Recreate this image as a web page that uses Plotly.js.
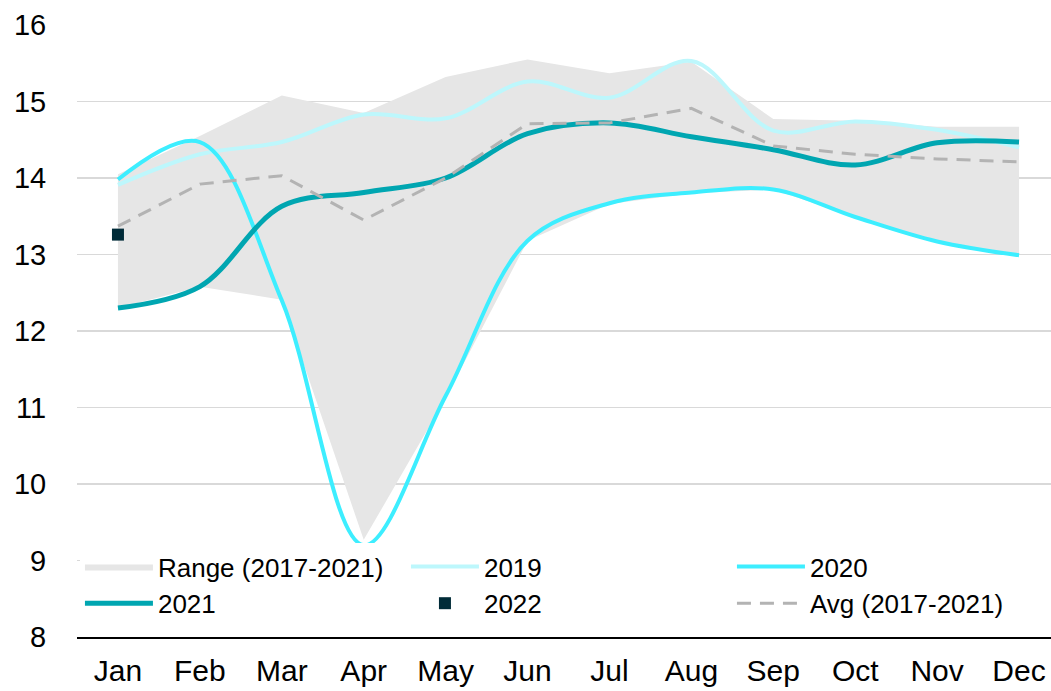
<!DOCTYPE html>
<html>
<head>
<meta charset="utf-8">
<script src="https://cdn.plot.ly/plotly-3.0.1.min.js"></script>
<style>html,body{margin:0;padding:0;background:#fff;overflow:hidden;width:1051px;height:691px;}#chart{width:1060px;height:691px;}</style>
</head>
<body>
<div id="chart"></div>
<script>
const months = ["Jan","Feb","Mar","Apr","May","Jun","Jul","Aug","Sep","Oct","Nov","Dec"];
const rangeMax = [14.05, 14.55, 15.08, 14.85, 15.32, 15.55, 15.37, 15.52, 14.77, 14.75, 14.67, 14.67];
const rangeMin = [12.30, 12.58, 12.41, 9.27, 11.12, 13.18, 13.66, 13.80, 13.85, 13.49, 13.17, 13.00];
const y2019 = [13.91, 14.31, 14.47, 14.83, 14.78, 15.26, 15.05, 15.53, 14.62, 14.74, 14.63, 14.40];
const y2020 = [13.98, 14.47, 12.40, 9.20, 11.15, 13.18, 13.67, 13.81, 13.85, 13.49, 13.17, 12.99];
const y2021 = [12.30, 12.58, 13.63, 13.81, 14.00, 14.58, 14.72, 14.54, 14.37, 14.17, 14.46, 14.47];
const y2022 = [13.26];
const avg = [13.37, 13.92, 14.03, 13.45, 14.00, 14.71, 14.72, 14.91, 14.42, 14.31, 14.25, 14.21];

const traces = [
  {x: months, y: rangeMax, type:'scatter', mode:'lines', line:{width:0, color:'#e6e6e6'}, showlegend:false, hoverinfo:'skip'},
  {x: months, y: rangeMin, type:'scatter', mode:'lines', name:'Range (2017-2021)', fill:'tonexty', fillcolor:'#e6e6e6', line:{width:0, color:'#e6e6e6'}},
  {x: months, y: y2019, type:'scatter', mode:'lines', name:'2019', line:{color:'#bdf7fc', width:4, shape:'spline', smoothing:1}},
  {x: months, y: y2020, type:'scatter', mode:'lines', name:'2020', line:{color:'#3deeff', width:4, shape:'spline', smoothing:1}},
  {x: months, y: y2021, type:'scatter', mode:'lines', name:'2021', line:{color:'#00a6b1', width:5, shape:'spline', smoothing:1}},
  {x: months.slice(0, y2022.length), y: y2022, type:'scatter', mode:'markers', name:'2022', marker:{symbol:'square', size:12, color:'#002b38'}},
  {x: months, y: avg, type:'scatter', mode:'lines', name:'Avg (2017-2021)', line:{color:'#b3b3b3', width:3, dash:'14px,9px'}}
];

const layout = {
  width:1060, height:691,
  margin:{l:77, r:0, t:25, b:54},
  paper_bgcolor:'#ffffff', plot_bgcolor:'#ffffff',
  font:{family:'"Liberation Sans", Arial, sans-serif', size:26, color:'#000000'},
  showlegend:true,
  xaxis:{type:'category', range:[-0.5, 11.5], showgrid:false, zeroline:false,
         showline:true, linecolor:'#000000', linewidth:2,
         ticks:'outside', ticklen:6, tickcolor:'rgba(0,0,0,0)',
         tickfont:{size:30, color:'#000000'}},
  yaxis:{range:[8,16], dtick:1, tick0:8, showgrid:true, gridcolor:'#d9d9d9', gridwidth:1.5,
         zeroline:false, showline:false,
         ticks:'outside', ticklen:24, tickcolor:'rgba(0,0,0,0)',
         tickfont:{size:29, color:'#000000'}},
  legend:{orientation:'h', x:0.003, xanchor:'left', y:0.1536, yanchor:'top',
          bgcolor:'#ffffff', borderwidth:0, itemwidth:68,
          entrywidth:243, entrywidthmode:'pixels',
          font:{size:26, color:'#000000'}, traceorder:'normal'}
};

Plotly.newPlot('chart', traces, layout, {displayModeBar:false, staticPlot:true});
</script>
</body>
</html>
